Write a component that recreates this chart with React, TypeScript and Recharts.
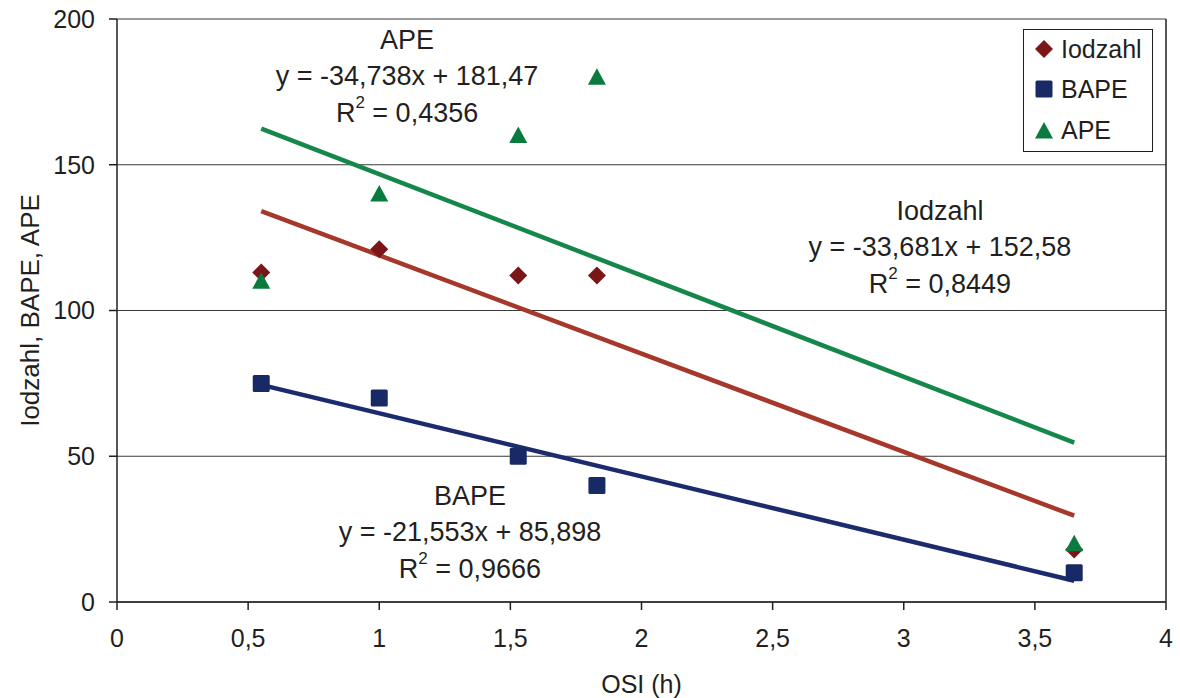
import {
  ScatterChart,
  Scatter,
  XAxis,
  YAxis,
  CartesianGrid,
  ReferenceLine,
  ReferenceDot,
} from 'recharts'

const osi = [0.55, 1.0, 1.53, 1.83, 3.65]
const iodzahl = [113, 121, 112, 112, 18]
const bape = [75, 70, 50, 40, 10]
const ape = [110, 140, 160, 180, 20]

// trendline end points (x = first and last OSI)
const trendX = [0.55, 3.65]
const iodzahlTrend = [134.1, 29.6]
const bapeTrend = [74.5, 7.3]
const apeTrend = [162.4, 54.7]

const xTicks = [0, 0.5, 1, 1.5, 2, 2.5, 3, 3.5, 4]
const yTicks = [0, 50, 100, 150, 200]

const FONT = '"Liberation Sans", Arial, Helvetica, sans-serif'
const TEXT = '#231f20'
const FS = 25

const COLORS = {
  iodzahl: '#7b1517',
  iodzahlLine: '#a6382b',
  bape: '#172a66',
  bapeLine: '#1b2b6e',
  ape: '#0b7a3e',
  apeLine: '#15874a',
}

const toPoints = (xs: number[], ys: number[]) => xs.map((x, i) => ({ x, y: ys[i] }))

const fmt = (v: number) => String(v).replace('.', ',')

// eslint-disable-next-line @typescript-eslint/no-explicit-any
function Diamond(props: any) {
  const { cx, cy } = props
  const r = 9
  return <polygon points={`${cx},${cy - r} ${cx + r},${cy} ${cx},${cy + r} ${cx - r},${cy}`} fill={COLORS.iodzahl} />
}

// eslint-disable-next-line @typescript-eslint/no-explicit-any
function Square(props: any) {
  const { cx, cy } = props
  return <rect x={cx - 8.5} y={cy - 8.5} width={17} height={17} rx={1.5} fill={COLORS.bape} />
}

// eslint-disable-next-line @typescript-eslint/no-explicit-any
function Triangle(props: any) {
  const { cx, cy } = props
  return <polygon points={`${cx},${cy - 9} ${cx + 9},${cy + 7.5} ${cx - 9},${cy + 7.5}`} fill={COLORS.ape} />
}

const NoDot = () => <g />

function makeNote(title: string, eq: string, r2: string) {
  // eslint-disable-next-line @typescript-eslint/no-explicit-any
  return function Note(props: any) {
    const { cx, cy } = props
    return (
      <g fontFamily={FONT} fontSize={27} fill={TEXT} textAnchor="middle">
        <text x={cx} y={cy - 36} dominantBaseline="central">{title}</text>
        <text x={cx} y={cy} dominantBaseline="central">{eq}</text>
        <text x={cx} y={cy + 37} dominantBaseline="central">
          <tspan>R</tspan>
          <tspan dy={-11} fontSize={17}>2</tspan>
          <tspan dy={11}>{` = ${r2}`}</tspan>
        </text>
      </g>
    )
  }
}

const LEGEND = [
  { label: 'Iodzahl', icon: 'diamond' },
  { label: 'BAPE', icon: 'square' },
  { label: 'APE', icon: 'triangle' },
]

function LegendBox() {
  return (
    <div
      style={{
        position: 'absolute',
        left: 1023,
        top: 29,
        border: '1px solid #231f20',
        background: '#fff',
        width: 128,
        padding: '0',
        fontFamily: FONT,
        fontSize: FS,
        color: TEXT,
      }}
    >
      {LEGEND.map((item, i) => (
        <div
          key={item.label}
          style={{ display: 'flex', alignItems: 'center', height: i === 2 ? 42 : 40, marginTop: i === 0 ? -1 : 0 }}
        >
          <svg width={34} height={20} style={{ marginLeft: 3 }}>
            {item.icon === 'diamond' && <Diamond cx={17} cy={10} />}
            {item.icon === 'square' && <Square cx={17} cy={10} />}
            {item.icon === 'triangle' && <Triangle cx={17} cy={11} />}
          </svg>
          <span>{item.label}</span>
        </div>
      ))}
    </div>
  )
}

// eslint-disable-next-line @typescript-eslint/no-explicit-any
function YLabel(props: any) {
  const { viewBox } = props
  const x = viewBox.x + 30
  const y = viewBox.y + viewBox.height / 2
  return (
    <text
      x={x}
      y={y}
      transform={`rotate(-90 ${x} ${y})`}
      textAnchor="middle"
      dominantBaseline="central"
      fontFamily={FONT}
      fontSize={26}
      fill={TEXT}
    >
      Iodzahl, BAPE, APE
    </text>
  )
}

export default function App() {
  const tick = { fontFamily: FONT, fontSize: FS, fill: TEXT }
  return (
    <div style={{ position: 'absolute', left: 0, top: 0, width: 1180, height: 698, background: '#fff' }}>
      <ScatterChart width={1180} height={698} margin={{ top: 19, right: 14, bottom: 0, left: 0 }}>
        <CartesianGrid horizontal vertical={false} stroke="#3a3a3a" strokeWidth={1.2} />
        <XAxis
          type="number"
          dataKey="x"
          domain={[0, 4]}
          ticks={xTicks}
          tickFormatter={fmt}
          height={96}
          tickSize={8}
          tickMargin={19}
          stroke="#231f20"
          strokeWidth={1.5}
          tick={tick}
          label={{ value: 'OSI (h)', position: 'insideBottom', offset: 5, style: { fontFamily: FONT, fontSize: FS, fill: TEXT } }}
        />
        <YAxis
          type="number"
          dataKey="y"
          domain={[0, 200]}
          ticks={yTicks}
          width={117}
          tickSize={8}
          tickMargin={14}
          stroke="#231f20"
          strokeWidth={1.5}
          tick={tick}
          label={<YLabel />}
        />
        <ReferenceLine x={4} stroke="#231f20" strokeWidth={1.5} />
        <Scatter
          name="APE trend"
          data={toPoints(trendX, apeTrend)}
          line={{ stroke: COLORS.apeLine, strokeWidth: 4.5 }}
          shape={NoDot}
          legendType="none"
          isAnimationActive={false}
        />
        <Scatter
          name="Iodzahl trend"
          data={toPoints(trendX, iodzahlTrend)}
          line={{ stroke: COLORS.iodzahlLine, strokeWidth: 4.5 }}
          shape={NoDot}
          legendType="none"
          isAnimationActive={false}
        />
        <Scatter
          name="BAPE trend"
          data={toPoints(trendX, bapeTrend)}
          line={{ stroke: COLORS.bapeLine, strokeWidth: 4.5 }}
          shape={NoDot}
          legendType="none"
          isAnimationActive={false}
        />
        <Scatter name="Iodzahl" data={toPoints(osi, iodzahl)} shape={Diamond} isAnimationActive={false} />
        <Scatter name="BAPE" data={toPoints(osi, bape)} shape={Square} isAnimationActive={false} />
        <Scatter name="APE" data={toPoints(osi, ape)} shape={Triangle} isAnimationActive={false} />
        <ReferenceDot x={1.106} y={180.4} shape={makeNote('APE', 'y = -34,738x + 181,47', '0,4356')} />
        <ReferenceDot x={3.138} y={121.8} shape={makeNote('Iodzahl', 'y = -33,681x + 152,58', '0,8449')} />
        <ReferenceDot x={1.346} y={24.0} shape={makeNote('BAPE', 'y = -21,553x + 85,898', '0,9666')} />
      </ScatterChart>
      <LegendBox />
    </div>
  )
}
